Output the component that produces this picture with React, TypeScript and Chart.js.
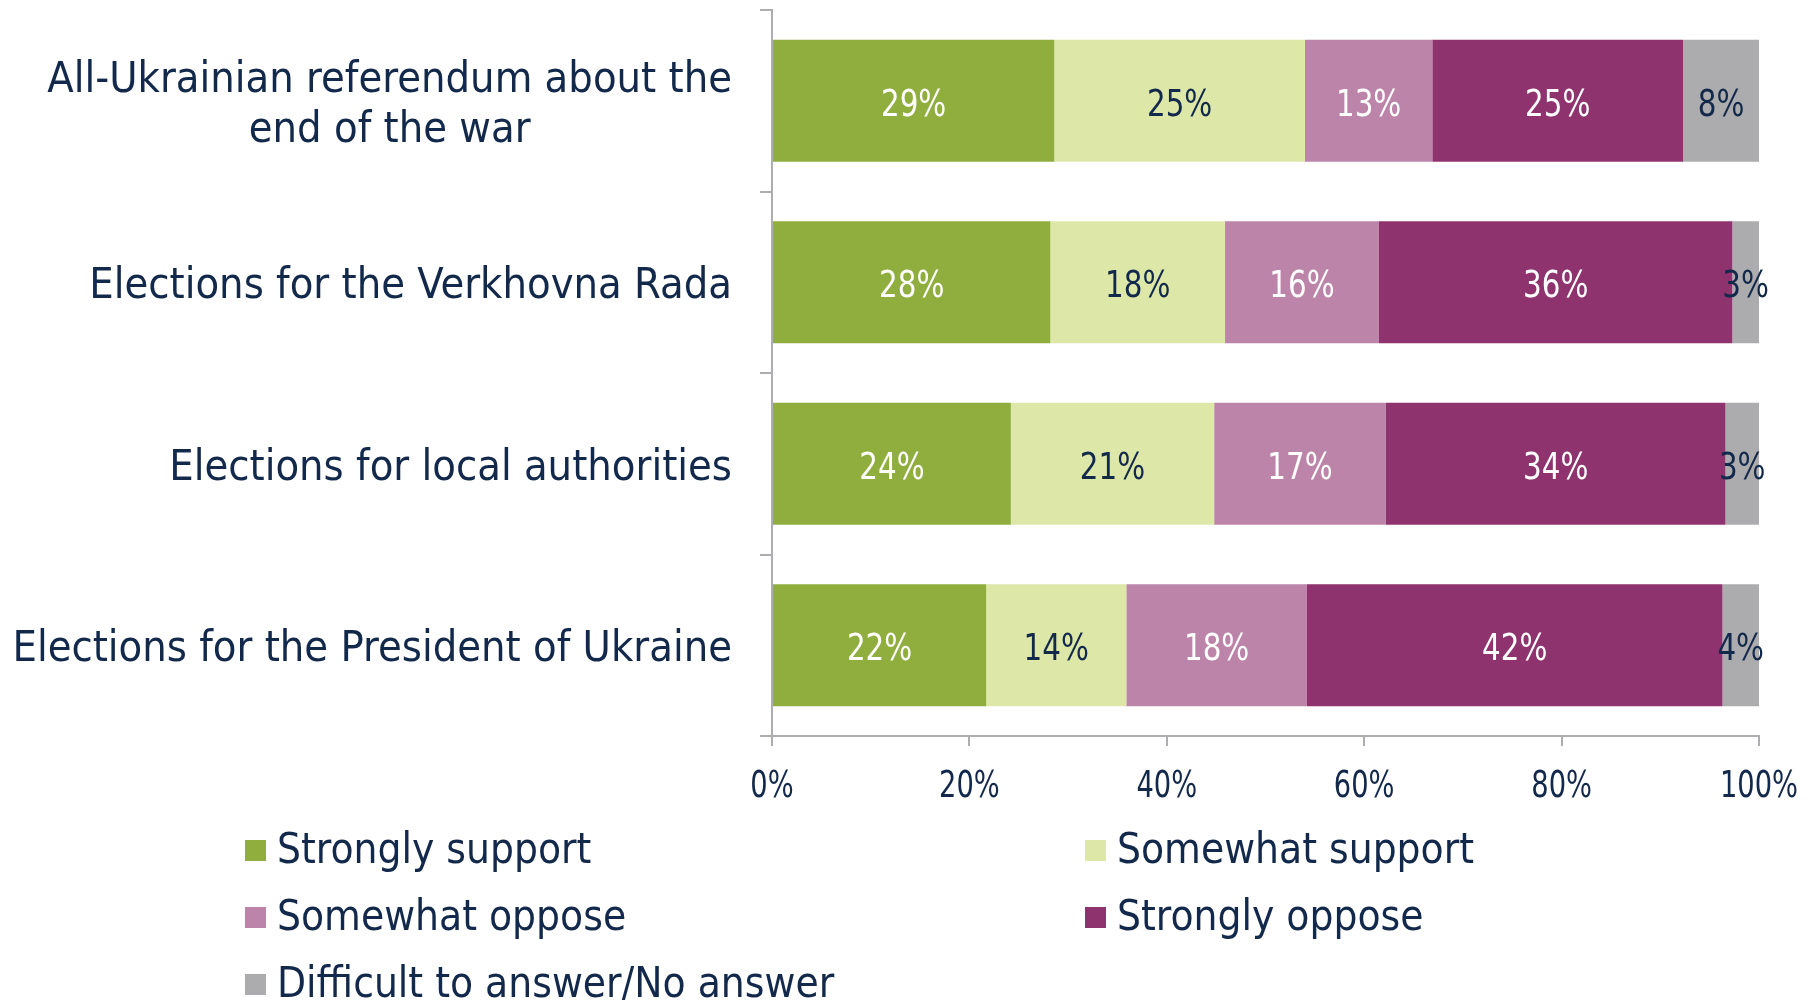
import React, { useEffect, useRef } from "react";
import { Chart, registerables } from "chart.js";

Chart.register(...registerables);

const categories: string[][] = [
  ["All-Ukrainian referendum about the", "end of the war"],
  ["Elections for the Verkhovna Rada"],
  ["Elections for local authorities"],
  ["Elections for the President of Ukraine"],
];

const seriesNames = [
  "Strongly support",
  "Somewhat support",
  "Somewhat oppose",
  "Strongly oppose",
  "Difficult to answer/No answer",
];

const stronglySupport = [28.6, 28.2, 24.2, 21.7];
const somewhatSupport = [25.4, 17.7, 20.6, 14.2];
const somewhatOppose = [12.9, 15.6, 17.4, 18.3];
const stronglyOppose = [25.4, 35.8, 34.4, 42.1];
const difficult = [7.7, 2.7, 3.4, 3.7];

const xTicks = [0, 20, 40, 60, 80, 100];

const colors = ["#8fae3e", "#dde8a8", "#bb84a8", "#8f336e", "#acacae"];
const labelColors = ["#ffffff", "#13294b", "#ffffff", "#ffffff", "#13294b"];
const TEXT = "#13294b";
const AXIS = "#adadb2";
const FAMILY = "'DejaVu Sans Condensed', 'DejaVu Sans', sans-serif";

const seriesValues = [stronglySupport, somewhatSupport, somewhatOppose, stronglyOppose, difficult];

function drawNarrow(ctx: any, text: string, x: number, y: number, sx: number) {
  ctx.save();
  ctx.translate(x, y);
  ctx.scale(sx, 1);
  ctx.fillText(text, 0, 0);
  ctx.restore();
}

const catLabelPlugin = {
  id: "catLabels",
  afterDraw(chart: any) {
    const ctx = chart.ctx;
    const y = chart.scales.y;
    ctx.save();
    ctx.font = `43px ${FAMILY}`;
    ctx.fillStyle = TEXT;
    ctx.textBaseline = "middle";
    ctx.textAlign = "center";
    const rightEdge = 732;
    const lineH = 50;
    categories.forEach((lines, i) => {
      const cy = y.getPixelForValue(i) + 5;
      const w = Math.max(...lines.map((l) => ctx.measureText(l).width));
      const cx = rightEdge - w / 2;
      const startY = cy - ((lines.length - 1) * lineH) / 2;
      lines.forEach((l, j) => ctx.fillText(l, cx, startY + j * lineH));
    });
    ctx.restore();
  },
};

const xTickPlugin = {
  id: "xTickLabels",
  afterDraw(chart: any) {
    const ctx = chart.ctx;
    const x = chart.scales.x;
    ctx.save();
    ctx.font = `37px ${FAMILY}`;
    ctx.fillStyle = TEXT;
    ctx.textBaseline = "middle";
    ctx.textAlign = "center";
    xTicks.forEach((v) => {
      drawNarrow(ctx, v + "%", x.getPixelForValue(v), 787, 0.82);
    });
    ctx.restore();
  },
};

const valueLabelPlugin = {
  id: "valueLabels",
  afterDatasetsDraw(chart: any) {
    const ctx = chart.ctx;
    ctx.save();
    ctx.font = `38px ${FAMILY}`;
    ctx.textAlign = "center";
    ctx.textBaseline = "middle";
    chart.data.datasets.forEach((ds: any, di: number) => {
      const meta = chart.getDatasetMeta(di);
      meta.data.forEach((el: any, i: number) => {
        const v = ds.data[i];
        const cx = (el.x + el.base) / 2;
        ctx.fillStyle = labelColors[di];
        drawNarrow(ctx, Math.round(v) + "%", cx, el.y + 5, 0.86);
      });
    });
    ctx.restore();
  },
};

const legendPlugin = {
  id: "customLegend",
  afterDraw(chart: any) {
    const ctx = chart.ctx;
    ctx.save();
    ctx.font = `42px ${FAMILY}`;
    ctx.textBaseline = "middle";
    ctx.textAlign = "left";
    const colX = [245, 1085];
    const rowY = [851, 918, 985];
    chart.data.datasets.forEach((ds: any, i: number) => {
      const x = colX[i % 2];
      const y = rowY[Math.floor(i / 2)];
      ctx.fillStyle = ds.backgroundColor;
      ctx.fillRect(x, y - 11, 21, 21);
      ctx.fillStyle = TEXT;
      ctx.fillText(ds.label, x + 32, y + 1);
    });
    ctx.restore();
  },
};

export default function App() {
  const ref = useRef<HTMLCanvasElement | null>(null);
  useEffect(() => {
    if (!ref.current) return;
    const chart = new Chart(ref.current, {
      type: "bar",
      data: {
        labels: categories.map((c) => c.join(" ")),
        datasets: seriesNames.map((name, i) => ({
          label: name,
          data: seriesValues[i],
          backgroundColor: colors[i],
          borderWidth: 0,
          barPercentage: 0.672,
          categoryPercentage: 1,
        })),
      },
      options: {
        indexAxis: "y",
        animation: false,
        responsive: false,
        maintainAspectRatio: false,
        layout: { padding: { top: 10, right: 57, bottom: 204, left: 0 } },
        plugins: { legend: { display: false }, tooltip: { enabled: false } },
        scales: {
          x: {
            stacked: true,
            min: 0,
            max: 100,
            afterBuildTicks: (scale: any) => {
              scale.ticks = xTicks.map((v) => ({ value: v }));
            },
            afterFit: (scale: any) => {
              scale.height = 60;
            },
            ticks: { display: false },
            grid: {
              drawOnChartArea: false,
              drawTicks: true,
              tickLength: 10,
              color: AXIS,
              lineWidth: 2,
            },
            border: { color: AXIS, width: 2 },
          },
          y: {
            stacked: true,
            offset: true,
            afterFit: (scale: any) => {
              scale.width = 772;
            },
            ticks: { display: false },
            grid: {
              offset: true,
              drawOnChartArea: false,
              drawTicks: true,
              tickLength: 12,
              color: AXIS,
              lineWidth: 2,
            },
            border: { color: AXIS, width: 2 },
          },
        },
      },
      plugins: [valueLabelPlugin, catLabelPlugin, xTickPlugin, legendPlugin],
    } as any);
    return () => chart.destroy();
  }, []);
  return (
    <div style={{ position: "fixed", left: 0, top: 0, width: 1816, height: 1000, background: "#fff" }}>
      <canvas ref={ref} width={1816} height={1000} style={{ width: 1816, height: 1000, display: "block" }} />
    </div>
  );
}
